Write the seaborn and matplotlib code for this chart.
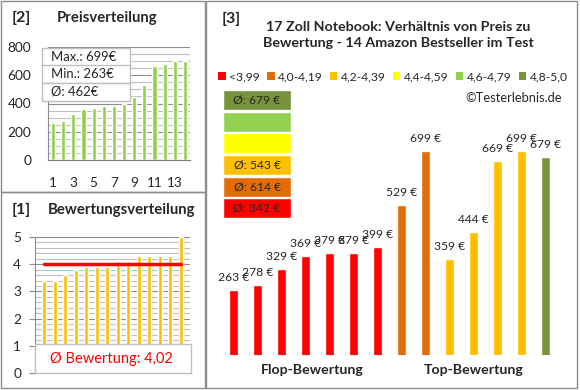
import numpy as np
import pandas as pd
import seaborn as sns
import matplotlib.pyplot as plt
from matplotlib.patches import Rectangle, Patch

# product prices (EUR) and ratings, in the order of the main chart
prices = [263, 278, 329, 369, 379, 379, 399, 529, 699, 359, 444, 669, 699, 679]
ratings = [3.4, 3.4, 3.6, 3.8, 3.9, 3.9, 3.9, 4.1, 4.1, 4.3, 4.3, 4.3, 4.3, 5.0]

# rating classes
class_labels = ['<3,99', '4,0-4,19', '4,2-4,39', '4,4-4,59', '4,6-4,79', '4,8-5,0']
class_colors = ['#FF0000', '#E36C09', '#FFC000', '#FFFF00', '#92D050', '#77933C']
class_edges = [4.0, 4.2, 4.4, 4.6, 4.8]

sns.set_style('white')
plt.rcParams['font.family'] = ['Lato', 'DejaVu Sans']

W, H = 580, 390
fig = plt.figure(figsize=(W / 100, H / 100), dpi=100)


def fx(px):
    return px / W


def fy(py):
    return 1 - py / H


def box(x0, y0, x1, y1, fc='white', ec='#A6A6A6', lw=1.0, z=1):
    r = Rectangle((fx(x0), fy(y1)), fx(x1) - fx(x0), fy(y0) - fy(y1),
                  transform=fig.transFigure, facecolor=fc, edgecolor=ec,
                  linewidth=lw, zorder=z)
    fig.add_artist(r)
    return r


# panel frames
box(1, 1, 205, 192, fc='none', ec='#8C8C8C')
box(1, 192, 205, 388, fc='none', ec='#8C8C8C')
box(206, 1, 577, 388, fc='none', ec='#8C8C8C')

grid_major = '#8C8C8C'
grid_minor = '#BFBFBF'

# ---------- [2] Preisverteilung ----------
sorted_prices = sorted(prices)
idx = [str(i + 1) for i in range(len(prices))]
ax2 = fig.add_axes([fx(48), fy(160), fx(190) - fx(48), fy(47) - fy(160)])
ax2.set_facecolor('none')
sns.barplot(x=idx, y=sorted_prices, color='#92D050', width=0.4,
            saturation=1, ax=ax2, zorder=3)
ax2.set_ylim(0, 800)
ax2.set_yticks(range(0, 801, 200))
ax2.set_yticks(range(0, 801, 50), minor=True)
ax2.grid(axis='y', which='major', color=grid_major, lw=0.8, zorder=0)
ax2.grid(axis='y', which='minor', color=grid_minor, lw=0.8, zorder=0)
ax2.set_xticks(range(len(idx)))
ax2.set_xticklabels([s if i % 2 == 0 else '' for i, s in enumerate(idx)])
ax2.tick_params(axis='x', length=0, pad=12, labelsize=9.8)
ax2.tick_params(axis='y', length=0, pad=12, labelsize=9.8)
for s in ['top', 'right']:
    ax2.spines[s].set_visible(False)
ax2.spines['left'].set_color(grid_major)
ax2.spines['bottom'].set_color('#7F7F7F')
ax2.set_xlabel('')
ax2.set_ylabel('')

fig.text(fx(12), fy(18), '[2]', fontsize=11.5, fontweight='bold', va='center')
fig.text(fx(57), fy(18), 'Preisverteilung', fontsize=10.7, fontweight='bold',
         va='center')

# stats box
stats = [f'Max.: {max(prices)}€', f'Min.: {min(prices)}€',
         f'Ø: {round(np.mean(prices))}€']
for k, t in enumerate(stats):
    y0 = 48 + k * 17.5
    box(42, y0, 130, y0 + 17.5, fc='white', ec='#BFBFBF', lw=1.0, z=4)
    fig.text(fx(51), fy(y0 + 9), t, fontsize=9.4, va='center', zorder=5)

# ---------- [1] Bewertungsverteilung ----------
sorted_ratings = sorted(ratings)
ax1 = fig.add_axes([fx(35), fy(373), fx(190) - fx(35), fy(237) - fy(373)])
ax1.set_facecolor('none')
sns.barplot(x=idx, y=sorted_ratings, color='#FFC000', width=0.4,
            saturation=1, ax=ax1, zorder=3)
ax1.set_ylim(0, 5)
ax1.set_yticks(range(0, 6))
ax1.set_yticks(np.arange(0, 5.01, 0.2), minor=True)
ax1.grid(axis='y', which='major', color=grid_major, lw=0.8, zorder=0)
ax1.grid(axis='y', which='minor', color=grid_minor, lw=0.8, zorder=0)
ax1.set_xticks([])
ax1.tick_params(axis='y', which='major', length=4, color=grid_major,
                direction='out', pad=6, labelsize=9.8, left=True)
ax1.tick_params(axis='y', which='minor', length=0)
for s in ['top', 'right', 'bottom']:
    ax1.spines[s].set_visible(False)
ax1.spines['left'].set_color(grid_major)
ax1.set_xlabel('')
ax1.set_ylabel('')
mean_rating = np.mean(ratings)
ax1.plot([0, len(idx) - 1], [mean_rating, mean_rating], color='#FF0000',
         lw=2.5, zorder=5)

fig.text(fx(12), fy(210), '[1]', fontsize=11.5, fontweight='bold', va='center')
fig.text(fx(48), fy(210), 'Bewertungsverteilung', fontsize=10.7,
         fontweight='bold', va='center')
box(35, 344, 191, 373, fc='white', ec='#BFBFBF', z=4)
fig.text(fx(111), fy(359), 'Ø Bewertung: ' + f'{mean_rating:.2f}'.replace('.', ','),
         fontsize=10.5, color='#FF0000', ha='center',
         va='center', zorder=5)

# ---------- [3] main chart ----------
cls = [int(np.searchsorted(class_edges, r, side='right')) for r in ratings]
bar_colors = [class_colors[c] for c in cls]
ax = fig.add_axes([fx(221.3), fy(355), fx(557.3) - fx(221.3), fy(118.8) - fy(355)])
ax.set_facecolor('none')
sns.barplot(x=idx, y=prices, hue=idx, palette=bar_colors, legend=False,
            width=0.36, saturation=1, ax=ax)
ax.set_ylim(59, 800)
ax.set_xlim(-0.5, len(idx) - 0.5)
for c in ax.containers:
    ax.bar_label(c, fmt='{:.0f} €', padding=5, fontsize=8.7)
ax.axis('off')

fig.text(fx(222), fy(19), '[3]', fontsize=11.5, fontweight='bold', va='center')
fig.text(fx(398), fy(35),
         '17 Zoll Notebook: Verhältnis von Preis zu\nBewertung - 14 Amazon Bestseller im Test',
         fontsize=10.3, fontweight='bold', ha='center', va='center',
         linespacing=1.45)

handles = [Patch(facecolor=c, edgecolor='none') for c in class_colors]
fig.legend(handles, class_labels, loc='center', bbox_to_anchor=(fx(393), fy(77)),
           ncol=6, frameon=False, handlelength=0.6, handleheight=0.6,
           handletextpad=0.3, columnspacing=0.6, fontsize=8.7)
fig.text(fx(562), fy(98), '©Testerlebnis.de', fontsize=9.3, ha='right',
         va='center')

# class average boxes (top = highest class)
box_tops = [90, 112, 133, 155, 177, 198]
for k, y0 in enumerate(box_tops):
    c = 5 - k
    members = [p for p, cc in zip(prices, cls) if cc == c]
    box(223, y0, 291, y0 + 20, fc=class_colors[c], ec='white', lw=1.0, z=2)
    if members:
        fig.text(fx(257), fy(y0 + 10), f'Ø: {round(np.mean(members))} €',
                 fontsize=8.7, ha='center', va='center', zorder=3)

fig.text(fx(312), fy(370), 'Flop-Bewertung', fontsize=10.2, fontweight='bold',
         ha='center', va='center')
fig.text(fx(474), fy(370), 'Top-Bewertung', fontsize=10.2, fontweight='bold',
         ha='center', va='center')

fig.savefig('out.png', dpi=100)
